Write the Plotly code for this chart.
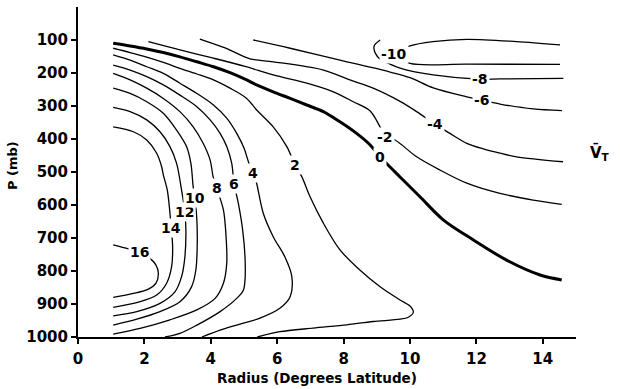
import plotly.graph_objects as go

# ---- data: isotachs of mean tangential wind (m/s), radius (deg lat) vs pressure (mb)
levels = [16, 14, 12, 10, 8, 6, 4, 2, 0, -2, -4, -6, -8, -10]

r_16 = [1.06, 1.52, 1.85, 2.12, 2.35, 2.42, 2.35, 2.12, 1.67, 1.06]
p_16 = [721, 733, 743, 758, 782, 807, 837, 855, 868, 880]

r_14 = [1.06, 1.67, 2.07, 2.37, 2.52, 2.57, 2.69, 2.81, 2.85, 2.82, 2.67, 2.37, 1.87, 1.06]
p_14 = [363, 378, 403, 443, 484, 509, 555, 671, 726, 787, 837, 873, 893, 910]

r_12 = [1.06, 1.57, 2.07, 2.47, 2.77, 2.97, 3.12, 3.22, 3.25, 3.22, 3.12, 2.92, 2.47, 1.77, 1.06]
p_12 = [304, 317, 342, 378, 423, 474, 555, 622, 676, 757, 817, 863, 898, 923, 936]

r_10 = [1.06, 1.57, 2.07, 2.57, 2.97, 3.27, 3.40, 3.47, 3.52, 3.58, 3.59, 3.55, 3.42, 3.07, 2.47, 1.77, 1.06]
p_10 = [246, 262, 287, 322, 373, 423, 474, 545, 580, 645, 726, 797, 848, 893, 923, 946, 964]

r_8 = [1.06, 1.57, 2.07, 2.57, 3.07, 3.47, 3.77, 3.98, 4.07, 4.18, 4.38, 4.46, 4.48, 4.38, 4.13, 3.58, 2.77, 1.87, 1.06]
p_8 = [201, 221, 246, 277, 317, 363, 413, 464, 514, 549, 615, 696, 777, 837, 883, 918, 948, 974, 991]

r_6 = [1.06, 1.57, 2.07, 2.57, 3.07, 3.58, 3.98, 4.28, 4.48, 4.63, 4.70, 4.83, 4.96, 5.03, 5.03, 4.98, 4.78, 4.28, 3.58, 3.07, 2.62]
p_6 = [176, 191, 211, 236, 267, 302, 342, 383, 423, 474, 535, 595, 676, 757, 827, 858, 883, 923, 964, 989, 1000]

r_4 = [1.06, 1.57, 2.07, 2.57, 3.07, 3.58, 4.08, 4.48, 4.78, 5.00, 5.15, 5.28, 5.38, 5.58, 5.88, 6.23, 6.44, 6.39, 6.08, 5.48, 4.88, 4.28, 3.73]
p_4 = [145, 161, 181, 201, 231, 262, 297, 337, 383, 427, 474, 502, 534, 625, 696, 757, 817, 878, 913, 943, 961, 979, 1000]

r_2 = [1.06, 1.57, 2.07, 2.57, 3.07, 3.58, 4.08, 4.58, 5.08, 5.38, 5.88, 6.29, 6.54, 6.74, 6.99, 7.39, 7.89, 8.49, 9.10, 9.70, 10.0, 10.10, 9.95, 9.70, 8.89, 8.10, 7.08, 6.08, 5.40]
p_2 = [125, 138, 152, 168, 186, 203, 221, 246, 277, 312, 363, 423, 479, 514, 575, 655, 736, 797, 848, 888, 906, 925, 940, 946, 953, 963, 973, 984, 1000]

r_0 = [1.06, 1.57, 2.07, 2.57, 3.07, 3.58, 4.08, 4.58, 5.08, 5.38, 5.88, 6.39, 6.89, 7.39, 7.89, 8.39, 8.80, 9.10, 9.40, 9.70, 10.30, 11.00, 11.91, 12.91, 13.92, 14.57]
p_0 = [110, 118, 127, 138, 151, 166, 181, 199, 221, 236, 257, 277, 297, 317, 348, 383, 418, 454, 485, 515, 575, 645, 706, 767, 812, 827]

r_m2 = [2.12, 3.07, 4.08, 5.03, 5.88, 6.89, 7.69, 8.29, 8.80, 9.07, 9.25, 9.55, 10.20, 10.90, 11.71, 12.71, 13.71, 14.57]
p_m2 = [105, 130, 155, 180, 206, 231, 257, 287, 315, 358, 393, 403, 454, 494, 534, 565, 585, 598]

r_m4 = [3.67, 4.43, 5.18, 5.88, 7.39, 8.19, 8.89, 9.70, 10.20, 10.75, 11.20, 11.71, 12.21, 12.71, 13.21, 14.61]
p_m4 = [97, 124, 157, 166, 191, 221, 246, 286, 317, 355, 383, 413, 430, 443, 454, 469]

r_m6 = [5.28, 6.39, 7.89, 9.40, 10.0, 10.70, 11.71, 12.16, 12.71, 13.71, 14.58]
p_m6 = [100, 125, 161, 197, 214, 245, 272, 282, 294, 309, 314]

r_m8 = [9.10, 8.92, 8.95, 9.10, 9.40, 9.70, 10.70, 12.11, 12.71, 14.62]
p_m8 = [100, 118, 139, 158, 173, 185, 206, 219, 218, 216]

r_m10 = [14.52, 13.21, 11.72, 10.69, 10.0, 9.52, 10.0, 11.71, 14.52]
p_m10 = [115, 105, 98, 105, 118, 143, 171, 173, 174]

# index of the point on each isotach where its value label sits
label_index = [2, 7, 7, 8, 9, 10, 11, 12, 17, 10, 9, 7, 7, 5]

x_ticks = [0, 2, 4, 6, 8, 10, 12, 14]
y_ticks = [100, 200, 300, 400, 500, 600, 700, 800, 900, 1000]

radii = [r_16, r_14, r_12, r_10, r_8, r_6, r_4, r_2, r_0, r_m2, r_m4, r_m6, r_m8, r_m10]
press = [p_16, p_14, p_12, p_10, p_8, p_6, p_4, p_2, p_0, p_m2, p_m4, p_m6, p_m8, p_m10]

FONT = "DejaVu Sans"

fig = go.Figure()
for lvl, r, p, li in zip(levels, radii, press, label_index):
    fig.add_trace(go.Scatter(
        x=r, y=p, mode="lines",
        line=dict(color="black", width=3 if lvl == 0 else 1.3, shape="spline", smoothing=0.9),
        hoverinfo="skip", showlegend=False))
    fig.add_annotation(
        x=r[li], y=p[li], xref="x", yref="y", text=str(lvl), showarrow=False,
        bgcolor="white", borderpad=1,
        font=dict(family=FONT, size=14, color="black", weight="bold"))

# V-bar subscript T label at the right
fig.add_annotation(
    xref="paper", yref="paper", x=1.048, y=0.56, text="V\u0304<sub>T</sub>",
    showarrow=False, xanchor="center", yanchor="middle",
    font=dict(family=FONT, size=15, color="black", weight="bold"))

# axis titles
fig.add_annotation(
    xref="paper", yref="paper", x=0.48, y=-0.124, text="Radius (Degrees Latitude)",
    showarrow=False, xanchor="center", yanchor="middle",
    font=dict(family=FONT, size=13.5, color="black", weight="bold"))
fig.add_annotation(
    xref="paper", yref="paper", x=-0.1325, y=0.518, text="P (mb)", textangle=-90,
    showarrow=False, xanchor="center", yanchor="middle",
    font=dict(family=FONT, size=13, color="black", weight="bold"))

axis_common = dict(
    showline=True, linecolor="black", linewidth=2, mirror=False,
    ticks="outside", ticklen=5, tickwidth=2, tickcolor="black",
    showgrid=False, zeroline=False,
    tickfont=dict(family=FONT, size=15, color="black", weight="bold"),
)

fig.update_layout(
    width=620, height=389,
    margin=dict(l=78, r=44, t=7, b=52),
    paper_bgcolor="white", plot_bgcolor="white",
    xaxis=dict(range=[0, 15], tickvals=x_ticks, ticklabelstandoff=2, **axis_common),
    yaxis=dict(range=[1000, 0], tickvals=y_ticks, ticklabelstandoff=0, **axis_common),
)

fig.write_html("out.html")
